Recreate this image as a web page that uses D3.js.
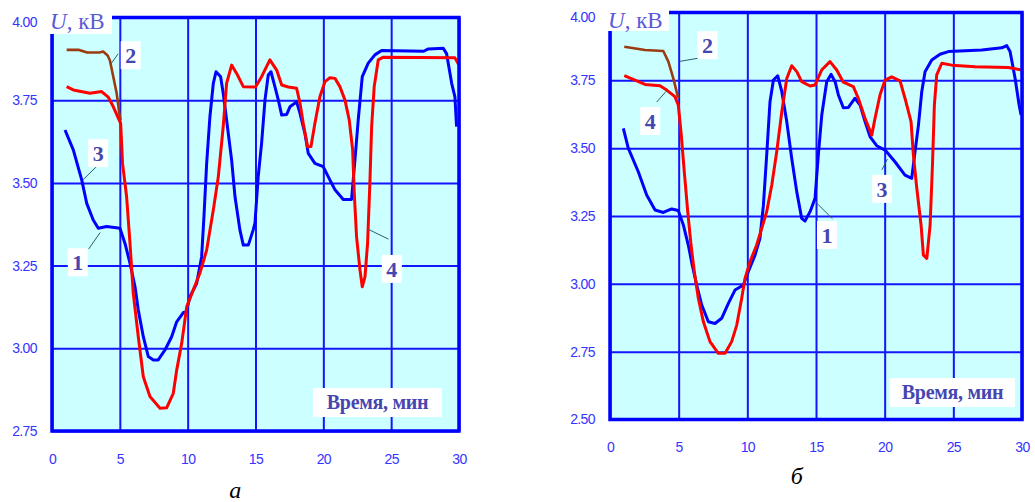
<!DOCTYPE html>
<html><head><meta charset="utf-8">
<script src="https://cdn.jsdelivr.net/npm/d3@7"></script>
<style>
html,body{margin:0;padding:0;background:#fff;}
svg{display:block;}
</style></head>
<body>
<svg id="c" width="1035" height="502"></svg>
<script>
// ---------- DATA ----------
const xTicks = [0, 5, 10, 15, 20, 25, 30];
const yTicksA = [2.75, 3.00, 3.25, 3.50, 3.75, 4.00];
const yTicksB = [2.50, 2.75, 3.00, 3.25, 3.50, 3.75, 4.00];
const xLabel = "Время, мин";
const yLabelU = "U";
const yLabelUnit = ", кВ";
const panelNames = ["а", "б"];
const seriesNames = ["1", "2", "3", "4"];

// Chart a
const aT2 = [1.08,2.0,2.6,3.5,3.77,4.1,4.27,4.52,4.77,4.96,5.06];
const aU2 = [3.902,3.902,3.894,3.894,3.897,3.885,3.87,3.82,3.77,3.71,3.69];
const aT4 = [1.08,1.57,2.8,3.66,4.15,4.52,5.06,5.2,5.5,5.75,5.99,6.36,6.73,7.22,7.96,8.45,8.94,9.19,9.56,9.93,10.41,10.9,11.4,11.89,12.26,12.62,12.87,13.24,13.61,14.1,15.0,15.45,16.06,16.56,16.93,17.42,18.03,18.28,18.52,18.84,19.09,19.38,19.75,20.12,20.49,20.86,21.22,21.59,21.91,22.16,22.28,22.45,22.7,22.87,23.07,23.26,23.43,23.56,23.75,24.05,24.42,29.7,30];
const aU4 = [3.791,3.781,3.771,3.776,3.759,3.73,3.68,3.559,3.458,3.317,3.166,3.035,2.914,2.854,2.819,2.82,2.864,2.934,3.015,3.126,3.176,3.227,3.297,3.418,3.519,3.67,3.801,3.856,3.831,3.791,3.79,3.821,3.872,3.841,3.796,3.79,3.786,3.741,3.68,3.609,3.61,3.68,3.761,3.806,3.818,3.816,3.791,3.751,3.69,3.6,3.469,3.337,3.237,3.186,3.216,3.317,3.499,3.67,3.791,3.872,3.88,3.878,3.856];
const aT1 = [0.96,1.57,2.19,2.56,3.04,3.41,4.03,5.01,5.38,5.75,6.12,6.36,6.73,7.1,7.47,7.83,8.33,8.82,9.19,9.68,9.9,10.17,10.66,11.03,11.2,11.4,11.64,11.89,12.09,12.43,12.62,12.87,13.24,13.49,13.85,14.1,14.47,14.83,14.96,15.2,15.45,15.7,15.94,16.14,16.43,16.68,16.93,17.3,17.54,18.03,18.28,18.64,18.89,19.38,19.99,20.36,20.86,21.47,22.08,22.33,22.57,22.87,23.31,23.8,24.3,27.4,27.74,28.84,29.09,29.46,29.7,29.82];
const aU1 = [3.66,3.6,3.509,3.438,3.388,3.363,3.368,3.363,3.317,3.257,3.186,3.116,3.035,2.975,2.965,2.965,2.995,3.035,3.08,3.108,3.11,3.156,3.196,3.277,3.398,3.559,3.7,3.801,3.836,3.821,3.771,3.69,3.569,3.458,3.358,3.312,3.312,3.358,3.378,3.519,3.62,3.751,3.826,3.836,3.791,3.751,3.705,3.707,3.73,3.745,3.71,3.65,3.589,3.559,3.549,3.519,3.479,3.45,3.45,3.569,3.69,3.821,3.862,3.887,3.9,3.898,3.905,3.907,3.89,3.801,3.76,3.67];

// Chart б
const bT2 = [1.04,2.55,3.88,4.25,4.61,4.97];
const bU2 = [3.874,3.862,3.858,3.819,3.757,3.684];
const bT4 = [1.04,1.82,2.55,3.64,4.13,4.73,4.97,5.17,5.41,5.66,5.9,6.14,6.43,6.8,7.28,7.89,8.38,8.86,9.23,9.59,9.83,10.2,10.68,11.05,11.41,11.78,12.14,12.51,12.87,13.23,13.6,13.96,14.57,14.93,15.41,16.02,16.51,16.99,17.72,18.08,18.57,19.06,19.3,19.66,20.03,20.51,21.12,21.48,21.92,22.09,22.34,22.65,22.82,23.07,23.31,23.48,23.62,23.79,24.16,24.89,26.58,29.01,29.98];
const bU4 = [3.767,3.751,3.735,3.73,3.714,3.69,3.659,3.561,3.413,3.266,3.143,3.045,2.947,2.86,2.787,2.744,2.744,2.787,2.848,2.947,3.02,3.082,3.143,3.205,3.266,3.364,3.487,3.634,3.757,3.804,3.782,3.745,3.729,3.733,3.788,3.819,3.788,3.743,3.727,3.684,3.61,3.548,3.61,3.696,3.751,3.763,3.748,3.684,3.598,3.475,3.352,3.217,3.106,3.094,3.217,3.438,3.659,3.77,3.813,3.806,3.8,3.797,3.788];
const bT1 = [0.97,1.33,2.06,2.67,3.28,3.88,4.49,4.97,5.34,5.7,5.99,6.31,6.68,7.16,7.65,8.13,8.62,9.1,9.71,10.07,10.56,10.92,11.17,11.41,11.65,11.9,12.21,12.51,12.87,13.23,13.6,13.96,14.2,14.57,14.93,15.17,15.42,15.78,16.1,16.39,16.63,16.99,17.36,17.84,18.21,18.57,18.94,19.42,20.03,20.75,21.48,21.97,22.21,22.46,22.7,22.94,23.43,24.03,24.64,27.07,28.53,28.89,29.13,29.5,29.79,29.93];
const bU1 = [3.573,3.5,3.413,3.327,3.272,3.263,3.276,3.27,3.217,3.143,3.069,2.996,2.922,2.86,2.854,2.873,2.928,2.977,2.996,3.045,3.106,3.168,3.29,3.475,3.671,3.751,3.767,3.708,3.598,3.463,3.339,3.241,3.231,3.266,3.315,3.475,3.622,3.745,3.772,3.745,3.696,3.649,3.65,3.684,3.659,3.598,3.542,3.509,3.493,3.45,3.401,3.389,3.487,3.585,3.708,3.782,3.825,3.846,3.856,3.862,3.87,3.878,3.856,3.757,3.659,3.622];

// ---------- DRAWING ----------
const svg = d3.select("#c");
const tickColor = "#3434ff";
const gridColor = "#1414ff";
const labelColor = "#4646b0";
const serif = "'Liberation Serif', 'Times New Roman', serif";

function panel(cfg) {
  const x = d3.scaleLinear().domain([0, 30]).range([cfg.x0, cfg.x1]);
  const y = d3.scaleLinear().domain(cfg.yDomain).range([cfg.y1, cfg.y0]);
  const g = svg.append("g");
  g.append("rect").attr("x", cfg.x0).attr("y", cfg.y0)
    .attr("width", cfg.x1 - cfg.x0).attr("height", cfg.y1 - cfg.y0)
    .attr("fill", "#ccffff");

  // grid + tick labels
  const xa = g.append("g").attr("transform", `translate(0,${cfg.y1})`)
    .call(d3.axisBottom(x).tickValues(xTicks).tickSize(-(cfg.y1 - cfg.y0)).tickPadding(23).tickFormat(d3.format("d")));
  const ya = g.append("g").attr("transform", `translate(${cfg.x0},0)`)
    .call(d3.axisLeft(y).tickValues(cfg.yTicks).tickSize(-(cfg.x1 - cfg.x0)).tickPadding(15).tickFormat(d3.format(".2f")));
  [xa, ya].forEach(a => {
    a.select(".domain").remove();
    a.selectAll("line").attr("stroke", gridColor).attr("stroke-width", 2);
    a.selectAll("text").attr("fill", tickColor)
      .style("font-family", "'Liberation Sans', Arial, sans-serif")
      .style("font-size", "14px").style("letter-spacing", "-0.6px");
  });
  ya.selectAll(".tick").filter(d => d === 4).select("text").attr("dy", "0.62em");

  // series
  const line = d3.line().x(d => x(d[0])).y(d => y(d[1]));
  const ser = [
    {t: cfg.t1, u: cfg.u1, c: "#0000ff", w: 3},
    {t: cfg.t2, u: cfg.u2, c: "#9a3b10", w: 2.6},
    {t: cfg.t4, u: cfg.u4, c: "#ff0000", w: 3}
  ];
  const clip = "clip" + cfg.id;
  g.append("clipPath").attr("id", clip).append("rect")
    .attr("x", cfg.x0).attr("y", cfg.y0).attr("width", cfg.x1 - cfg.x0).attr("height", cfg.y1 - cfg.y0);
  const lg = g.append("g").attr("clip-path", `url(#${clip})`);
  ser.forEach(s => {
    lg.append("path").datum(s.t.map((t, i) => [t, s.u[i]]))
      .attr("d", line).attr("fill", "none").attr("stroke", s.c)
      .attr("stroke-width", s.w).attr("stroke-linejoin", "round");
  });

  // frame
  g.append("rect").attr("x", cfg.x0).attr("y", cfg.y0)
    .attr("width", cfg.x1 - cfg.x0).attr("height", cfg.y1 - cfg.y0)
    .attr("fill", "none").attr("stroke", "#0000ff").attr("stroke-width", 3.5);

  // U, kV label box
  const ub = cfg.ubox;
  g.append("rect").attr("x", ub[0]).attr("y", ub[1]).attr("width", ub[2]).attr("height", ub[3]).attr("fill", "#fff");
  const ut = g.append("text").attr("x", ub[0] + 3).attr("y", ub[4])
    .attr("fill", "#5a5ad8").style("font-family", serif).style("font-size", "23px");
  ut.append("tspan").style("font-style", "italic").text(yLabelU);
  ut.append("tspan").text(yLabelUnit);

  // x label box
  const tb = cfg.xlab;
  g.append("rect").attr("x", tb[0]).attr("y", tb[1]).attr("width", tb[2]).attr("height", 29).attr("fill", "#fff");
  g.append("text").attr("x", tb[0] + tb[2] / 2).attr("y", tb[1] + 21).attr("text-anchor", "middle")
    .attr("fill", labelColor).style("font-family", serif)
    .style("font-size", "20px").style("font-weight", "bold").style("letter-spacing", "-0.3px").text(xLabel);

  // numbered labels with leaders
  cfg.nums.forEach(n => {
    g.append("line").attr("x1", x(n.l[0])).attr("y1", y(n.l[1])).attr("x2", x(n.l[2])).attr("y2", y(n.l[3]))
      .attr("stroke", "#2e5e6e").attr("stroke-width", 1);
    const cx = x(n.p[0]), cy = y(n.p[1]);
    g.append("rect").attr("x", cx - 10).attr("y", cy - 14).attr("width", 20).attr("height", 28).attr("fill", "#fff");
    g.append("text").attr("x", cx).attr("y", cy + 8).attr("text-anchor", "middle")
      .attr("fill", labelColor).style("font-family", serif)
      .style("font-size", "22px").style("font-weight", "bold").text(seriesNames[n.s]);
  });

  // panel caption
  g.append("text").attr("x", x(cfg.cap[0])).attr("y", cfg.cap[1]).attr("text-anchor", "middle")
    .style("font-family", serif).style("font-style", "italic")
    .style("font-size", "24px").attr("fill", "#000").text(cfg.name);
}

panel({
  id: "a", x0: 52, x1: 459, y0: 17.5, y1: 431, yDomain: [2.75, 4], yTicks: yTicksA,
  t1: aT1, u1: aU1, t2: aT2, u2: aU2, t4: aT4, u4: aU4,
  ubox: [47, 9, 65, 25, 29],
  xlab: [313, 388, 129],
  nums: [
    {s: 1, p: [5.8, 3.886], l: [4.35, 3.86, 4.87, 3.89]},
    {s: 2, p: [3.4, 3.59], l: [2.3, 3.51, 3.3, 3.55]},
    {s: 0, p: [1.9, 3.26], l: [2.7, 3.30, 3.55, 3.35]},
    {s: 3, p: [25.05, 3.24], l: [23.3, 3.36, 24.8, 3.33]}
  ],
  cap: [13.5, 498], name: panelNames[0]
});
panel({
  id: "b", x0: 610, x1: 1022, y0: 12.5, y1: 419.5, yDomain: [2.5, 4], yTicks: yTicksB,
  t1: bT1, u1: bU1, t2: bT2, u2: bU2, t4: bT4, u4: bU4,
  ubox: [605, 8, 64, 23, 28],
  xlab: [890, 378, 125],
  nums: [
    {s: 1, p: [7.1, 3.88], l: [5.1, 3.82, 7.4, 3.84]},
    {s: 3, p: [2.93, 3.60], l: [3.4, 3.67, 4.1, 3.71]},
    {s: 0, p: [15.8, 3.18], l: [15.0, 3.30, 16.2, 3.24]},
    {s: 2, p: [19.8, 3.35], l: [19.8, 3.42, 20.2, 3.46]}
  ],
  cap: [13.6, 484], name: panelNames[1]
});
</script>
</body></html>
